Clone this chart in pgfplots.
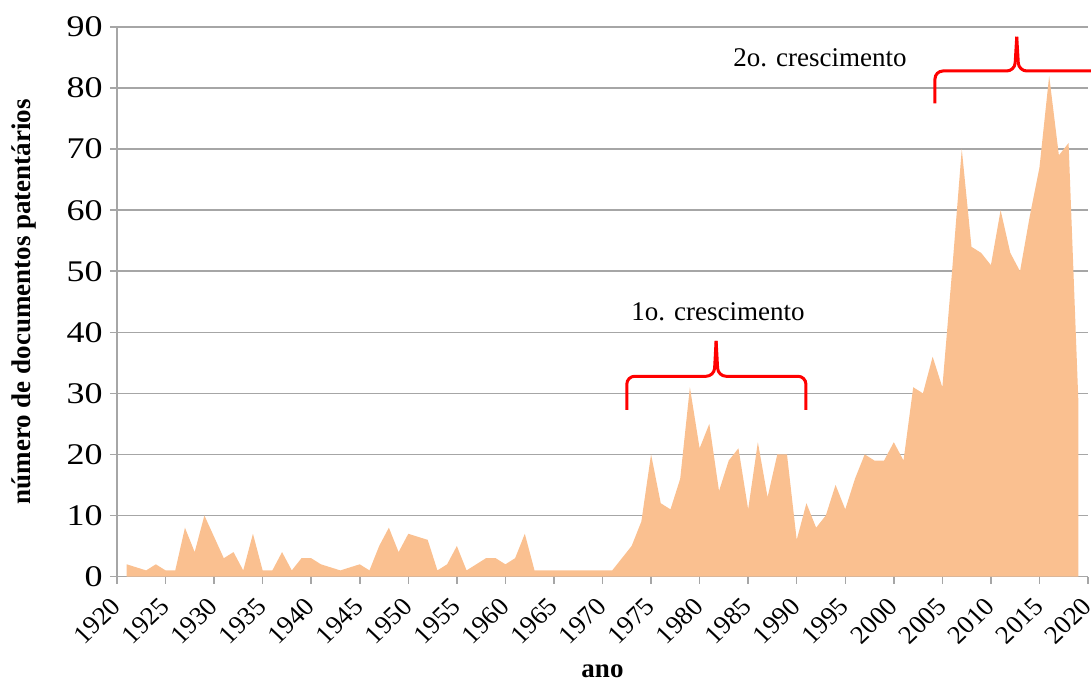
\documentclass[border=0pt]{standalone}
\usepackage{fontspec}
\setmainfont{Liberation Serif}
\usepackage{pgfplots}
\pgfplotsset{compat=1.18}
\definecolor{areac}{HTML}{FAC090}
\definecolor{gridc}{HTML}{A6A6A6}
\begin{document}
\begin{tikzpicture}
\path[use as bounding box] (-58.5pt,-52.75pt) rectangle (487pt,288.25pt);
\begin{axis}[
  at={(0pt,0pt)}, anchor=south west,
  scale only axis, width=485.5pt, height=274.75pt,
  xmin=1920, xmax=2020, ymin=0, ymax=90,
  xtick={1920,1925,...,2020}, ytick={0,10,...,90},
  axis x line*=bottom, axis y line*=left,
  axis line style={gridc, line width=0.75pt, -},
  tick style={gridc, line width=0.75pt},
  tick align=outside, major tick length=3.5pt,
  ymajorgrids, grid style={gridc, line width=0.75pt},
  /pgf/number format/assume math mode=true,
  /pgf/number format/1000 sep={},
  yticklabel style={font=\fontsize{15}{18}\selectfont, black, anchor=east, inner sep=0pt, xshift=-3.5pt, xscale=1.2},
  xticklabel style={font=\fontsize{12.8}{15}\selectfont, black, xshift=-10pt, yshift=-18.75pt, xscale=1.05, rotate=45, anchor=center, inner sep=0pt},
  xlabel={ano},
  xlabel style={font=\fontsize{13.5}{16}\selectfont\bfseries, at={(axis description cs:0.5,0)}, anchor=center, yshift=-47.25pt},
  clip=false,
]
\addplot[fill=areac, draw=none] coordinates {
(1921,2) (1922,1.5) (1923,1) (1924,2) (1925,1) (1926,1) (1927,8) (1928,4) (1929,10) (1930,6.5)
(1931,3) (1932,4) (1933,1) (1934,7) (1935,1) (1936,1) (1937,4) (1938,1) (1939,3) (1940,3)
(1941,2) (1942,1.5) (1943,1) (1944,1.5) (1945,2) (1946,1) (1947,5) (1948,8) (1949,4) (1950,7)
(1951,6.5) (1952,6) (1953,1) (1954,2) (1955,5) (1956,1) (1957,2) (1958,3) (1959,3) (1960,2)
(1961,3) (1962,7) (1963,1) (1964,1) (1965,1) (1966,1) (1967,1) (1968,1) (1969,1) (1970,1)
(1971,1) (1972,3) (1973,5) (1974,9) (1975,20) (1976,12) (1977,11) (1978,16) (1979,31) (1980,21)
(1981,25) (1982,14) (1983,19) (1984,21) (1985,11) (1986,22) (1987,13) (1988,20) (1989,20) (1990,6)
(1991,12) (1992,8) (1993,10) (1994,15) (1995,11) (1996,16) (1997,20) (1998,19) (1999,19) (2000,22)
(2001,19) (2002,31) (2003,30) (2004,36) (2005,31) (2006,50) (2007,70) (2008,54) (2009,53) (2010,51)
(2011,60) (2012,53) (2013,50) (2014,59) (2015,67) (2016,82) (2017,69) (2018,71) (2019,29)
} \closedcycle;
% brackets
\draw[red, line width=1.5pt, rounded corners=4pt] (axis cs:1972.5,27.3) -- (axis cs:1972.5,32.8) -- (axis cs:1981.5,32.8) -- (axis cs:1981.7,38.6);
\draw[red, line width=1.5pt, rounded corners=4pt] (axis cs:1990.95,27.3) -- (axis cs:1990.95,32.8) -- (axis cs:1981.9,32.8) -- (axis cs:1981.7,38.6);
\draw[red, line width=1.5pt, rounded corners=4pt] (axis cs:2004.24,77.5) -- (axis cs:2004.24,82.8) -- (axis cs:2012.45,82.8) -- (axis cs:2012.66,88.4);
\draw[red, line width=1.5pt, rounded corners=4pt] (axis cs:2021.2,77.5) -- (axis cs:2021.2,82.8) -- (axis cs:2012.87,82.8) -- (axis cs:2012.66,88.4);
\node[font=\fontsize{13.5}{16}\selectfont, anchor=center] at (axis cs:1981.9,43.3) {1o. crescimento};
\node[font=\fontsize{13.5}{16}\selectfont, anchor=center] at (axis cs:1992.4,85.0) {2o. crescimento};
\node[font=\fontsize{13.5}{16}\selectfont\bfseries, xshift=-46.5pt, rotate=90, anchor=center] at (rel axis cs:0,0.5) {número de documentos patentários};
\end{axis}
\end{tikzpicture}
\end{document}
